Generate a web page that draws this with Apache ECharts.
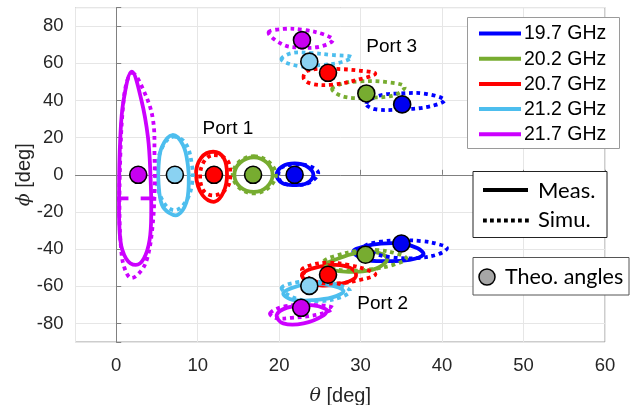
<!DOCTYPE html>
<html><head><meta charset="utf-8">
<script src="https://cdn.jsdelivr.net/npm/echarts@6/dist/echarts.min.js"></script>
<style>html,body{margin:0;padding:0;background:#fff}#c{width:636px;height:405px}</style>
</head><body><div id="c"></div>
<script>
// ---- data (theta, phi in degrees); contour order: 19.7, 20.2, 20.7, 21.2, 21.7 GHz ----
const freqLabels = ['19.7 GHz', '20.2 GHz', '20.7 GHz', '21.2 GHz', '21.7 GHz'];

const port1TheoTheta = [21.9, 16.8, 12.0, 7.2, 2.7];
const port1TheoPhi = [0, 0, 0, 0, 0];
const port2TheoTheta = [35.0, 30.6, 26.0, 23.7, 22.7];
const port2TheoPhi = [-37.0, -43.0, -53.8, -59.8, -71.6];
const port3TheoTheta = [35.1, 30.7, 26.0, 23.7, 22.8];
const port3TheoPhi = [37.9, 43.8, 54.9, 60.9, 72.5];

const p1Meas = [
  [[21.9,6.1],[23.4,4.5],[24.2,0],[23.4,-4.5],[21.9,-5.5],[20.4,-4.5],[19.7,0],[20.4,4.5]],
  [[16.9,9.4],[18.5,6.5],[19.2,0],[18.5,-6.5],[16.9,-9.2],[15.2,-6.5],[14.5,0],[15.2,6.5]],
  [[11.9,12.4],[13.2,9],[13.6,0],[13.2,-9],[12.1,-14.5],[10.6,-11],[9.8,0],[10.4,9]],
  [[6.9,21.4],[8.2,16],[8.8,5],[8.9,-5],[8.6,-15],[7.6,-21.5],[6.5,-20.5],[5.6,-16],[5.2,-5],[5.2,5],[5.6,15]],
  [[1.9,55.5],[3.1,40],[3.9,20],[4.2,0],[4.3,-20],[4.1,-35],[3.4,-45],[2.4,-48.5],[1.2,-45],[0.5,-35],[0.35,-10],[0.5,20],[0.9,40]]
];
const p1Simu = [
  [[22.0,5.5],[23.8,4.5],[24.8,1],[23.8,-4],[22,-5.5],[20.3,-4],[19.9,0],[20.3,4]],
  [[16.9,10],[18.7,7],[19.6,0],[18.7,-7],[16.9,-10],[15.1,-7],[14.3,0],[15.1,7]],
  [[12.0,10.6],[13.6,8],[14.0,0],[13.6,-7],[12.2,-11],[10.8,-9],[10.3,0],[10.9,8]],
  [[7.0,20.5],[8.5,17],[9.3,5],[9.3,-5],[8.6,-14],[7.3,-19],[6.0,-16],[5.0,-5],[5.0,5],[5.8,16]],
  [[2.0,55],[3.4,45],[4.5,30],[4.7,10],[4.7,-10],[4.4,-30],[3.8,-45],[3.0,-52],[1.8,-55.5],[1.0,-50],[0.6,-40],[0.4,-20],[0.5,10],[0.8,35],[1.3,50]]
];
const p1MeasTicks = [[[0.1,-12.7],[1.5,-12.7]], [[3.0,-12.7],[4.7,-12.7]]];

const p2Meas = [
  [[29.1,-41.3],[30.5,-38.5],[32.5,-37],[35,-37],[37,-39.5],[37.7,-43],[36,-45.8],[33,-46.5],[30.5,-45.5]],
  [[25.6,-48.5],[27,-45.5],[29.5,-42],[31.5,-41.5],[33,-43.5],[33.2,-46.5],[31.5,-51],[28.5,-52.3],[26.3,-51]],
  [[22.8,-53.5],[24,-50.5],[26,-48.7],[28,-49],[29.3,-52],[29.3,-55.6],[27.5,-58.7],[25,-59.5],[23.3,-57]],
  [[20.5,-64],[21.5,-61],[23.5,-58.8],[26,-59.2],[27.9,-62.5],[26.5,-66],[24,-67.5],[21.7,-67.3]],
  [[19.7,-75.5],[21,-71.5],[23.5,-70],[25.8,-72.5],[25.5,-75.5],[23,-80],[20.5,-80]]
];
const p2Simu = [
  [[30.5,-38.5],[32.5,-36],[35,-35.3],[37.5,-35.7],[39.5,-37.3],[40.6,-39.5],[39.5,-42.8],[37,-44.8],[34,-44.5],[31.5,-42]],
  [[25.5,-46.5],[27,-43.5],[29.5,-41],[32,-40.5],[34.5,-42.5],[35.6,-45],[34,-48.5],[31,-51],[28,-51.5],[26,-49.5]],
  [[22.8,-51.5],[24,-48.5],[26,-47.3],[28.5,-48.5],[31,-51.5],[31.8,-53.8],[30,-56.5],[27.5,-58.3],[24.5,-57.5]],
  [[20.3,-61],[22,-58],[24.5,-57.5],[27,-59],[28.7,-62.5],[27.5,-66],[25,-68],[22,-66.5]],
  [[18.9,-74.5],[20.5,-71],[23.5,-70],[26.6,-71.5],[25,-75],[21.5,-77],[19.5,-77]]
];
const p3Simu = [
  [[30.7,38.2],[32.2,42.5],[35,43.8],[38,43.6],[40.3,40.2],[38.5,36.8],[35,35.2],[31.8,35.3]],
  [[26.5,46],[27.7,49],[30,50.3],[33,50],[35.4,47.5],[34.2,43],[31,41.5],[28,42]],
  [[23,52],[23.5,56],[26.5,57],[30,56],[31.8,54.4],[29.5,51],[26.5,48.5],[24,49]],
  [[20.3,62],[21.5,65.5],[24,65.5],[26.5,64.5],[28.9,63.4],[27.7,60.7],[25,59],[22.5,58.5]],
  [[18.7,76.5],[20.5,78.5],[23,78],[25.5,75.5],[26.6,72.5],[25,69],[22.5,68.5],[20.5,70]]
];

const portNames = ['Port 1', 'Port 2', 'Port 3'];
const portTheta = [10.6, 29.6, 30.7];
const portPhi = [24.6, -69.3, 68.9];

// ---- styles ----
const lineColors = ['#0000ff', '#77ac30', '#ff0000', '#4dbeee', '#cc00ff'];
const markerColors = ['#0000f0', '#77ac30', '#ff0000', '#8ad2f2', '#c800f0'];
const FONT = '"Liberation Sans", Arial, sans-serif';
const FONT2 = 'Lato, "Open Sans", sans-serif';
const LW = 3.8;

function contourSeries(pts, color, dashed, closed) {
  return {
    type: 'custom', coordinateSystem: 'cartesian2d', silent: true, z: dashed ? 3 : 2,
    data: pts, encode: { x: 0, y: 1 },
    renderItem: function (params, api) {
      if (params.dataIndex !== 0) return null;
      const points = pts.map(p => api.coord(p));
      return {
        type: closed ? 'polygon' : 'polyline',
        shape: { points: points, smooth: closed ? 0.38 : 0 },
        style: { fill: 'none', stroke: color, lineWidth: LW, lineDash: dashed ? [3.8, 3.8] : null, lineCap: 'butt' }
      };
    }
  };
}

const series = [];
[p1Meas, p2Meas].forEach(set => set.forEach((c, i) => series.push(contourSeries(c, lineColors[i], false, true))));
p1MeasTicks.forEach(t => series.push(contourSeries(t, lineColors[4], false, false)));
[p1Simu, p2Simu, p3Simu].forEach(set => set.forEach((c, i) => series.push(contourSeries(c, lineColors[i], true, true))));

const markerData = [];
[[port1TheoTheta, port1TheoPhi], [port2TheoTheta, port2TheoPhi], [port3TheoTheta, port3TheoPhi]].forEach(([th, ph]) => {
  th.forEach((t, i) => markerData.push({ value: [t, ph[i]], itemStyle: { color: markerColors[i] } }));
});
series.push({
  type: 'scatter', z: 10, symbol: 'circle', symbolSize: 17, silent: true,
  itemStyle: { borderColor: '#000', borderWidth: 1.6, opacity: 1 },
  data: markerData
});
series.push({
  type: 'custom', coordinateSystem: 'cartesian2d', silent: true, z: 11,
  data: portTheta.map((t, i) => [t, portPhi[i]]), encode: { x: 0, y: 1 },
  renderItem: function (params, api) {
    const p = api.coord([api.value(0), api.value(1)]);
    return { type: 'text', x: p[0], y: p[1], style: { text: portNames[params.dataIndex], font: '19px ' + FONT, fill: '#000', align: 'left', verticalAlign: 'middle' } };
  }
});

// ---- legends drawn as graphic ----
const graphic = [];
graphic.push({ type: 'rect', shape: { x: 467.5, y: 17.5, width: 152, height: 131 }, style: { fill: '#fff', stroke: '#9a9a9a', lineWidth: 1 }, z: 100 });
freqLabels.forEach((f, i) => {
  const y = 33.5 + i * 25.2;
  graphic.push({ type: 'line', shape: { x1: 479, y1: y, x2: 521, y2: y }, style: { stroke: lineColors[i], lineWidth: 4 }, z: 101 });
  graphic.push({ type: 'text', x: 524, y: y + 0.5, style: { text: f, font: '19.5px ' + FONT, fill: '#000', verticalAlign: 'middle' }, z: 101 });
});
graphic.push({ type: 'rect', shape: { x: 473, y: 171.5, width: 134, height: 66 }, style: { fill: '#fff', stroke: '#222', lineWidth: 1 }, z: 100 });
graphic.push({ type: 'line', shape: { x1: 483, y1: 190, x2: 528, y2: 190 }, style: { stroke: '#000', lineWidth: 4 }, z: 101 });
graphic.push({ type: 'text', x: 538, y: 191, style: { text: 'Meas.', font: '22px ' + FONT2, fill: '#000', verticalAlign: 'middle' }, z: 101 });
graphic.push({ type: 'line', shape: { x1: 483, y1: 220.5, x2: 530, y2: 220.5 }, style: { stroke: '#000', lineWidth: 4, lineDash: [3.8, 3.2] }, z: 101 });
graphic.push({ type: 'text', x: 538, y: 220, style: { text: 'Simu.', font: '22px ' + FONT2, fill: '#000', verticalAlign: 'middle' }, z: 101 });
graphic.push({ type: 'rect', shape: { x: 473, y: 257.5, width: 156, height: 37.5 }, style: { fill: '#fff', stroke: '#555', lineWidth: 1 }, z: 100 });
graphic.push({ type: 'circle', shape: { cx: 487, cy: 277, r: 8 }, style: { fill: '#a6a6a6', stroke: '#000', lineWidth: 1.5 }, z: 101 });
graphic.push({ type: 'text', x: 505, y: 277, style: { text: 'Theo. angles', font: '21.5px ' + FONT2, fill: '#000', verticalAlign: 'middle' }, z: 101 });

const chart = echarts.init(document.getElementById('c'), null, { renderer: 'canvas' });
chart.setOption({
  animation: false,
  backgroundColor: '#fff',
  grid: { left: 75.5, right: 31, top: 7.6, bottom: 63, show: true, borderColor: '#9a9a9a', borderWidth: 1,
    containLabel: false, outerBoundsMode: 'none' },
  xAxis: {
    type: 'value', min: -5, max: 60, splitNumber: 6,
    name: '{i|θ} [deg]', nameLocation: 'middle', nameGap: 44, nameMoveOverlap: false,
    nameTextStyle: { fontFamily: FONT, fontSize: 20, color: '#262626', rich: { i: { fontFamily: '"DejaVu Serif", serif', fontStyle: 'italic', fontSize: 19, color: '#262626' } } },
    axisLine: { lineStyle: { color: '#808080', width: 1 } },
    axisTick: { inside: true, length: 5, lineStyle: { color: '#808080' } },
    axisLabel: { fontFamily: FONT, fontSize: 18.5, color: '#262626', margin: 14, showMinLabel: false,
      formatter: v => (v < 0 ? '' : String(v)) },
    splitLine: { show: true, lineStyle: { color: '#e6e6e6', width: 1 } }
  },
  yAxis: {
    type: 'value', min: -90, max: 90, splitNumber: 9,
    name: '{i|ϕ} [deg]', nameLocation: 'middle', nameGap: 41, nameRotate: 90, nameMoveOverlap: false,
    nameTextStyle: { fontFamily: FONT, fontSize: 20, color: '#262626', rich: { i: { fontFamily: '"DejaVu Serif", serif', fontStyle: 'italic', fontSize: 19, color: '#262626' } } },
    axisLine: { lineStyle: { color: '#808080', width: 1 } },
    axisTick: { inside: true, length: 5, lineStyle: { color: '#808080' } },
    axisLabel: { fontFamily: FONT, fontSize: 18.5, color: '#262626', margin: 12,
      formatter: v => (Math.abs(v) >= 90 ? '' : String(v)) },
    splitLine: { show: true, lineStyle: { color: '#e6e6e6', width: 1 } }
  },
  series: series,
  graphic: graphic
});
</script></body></html>
